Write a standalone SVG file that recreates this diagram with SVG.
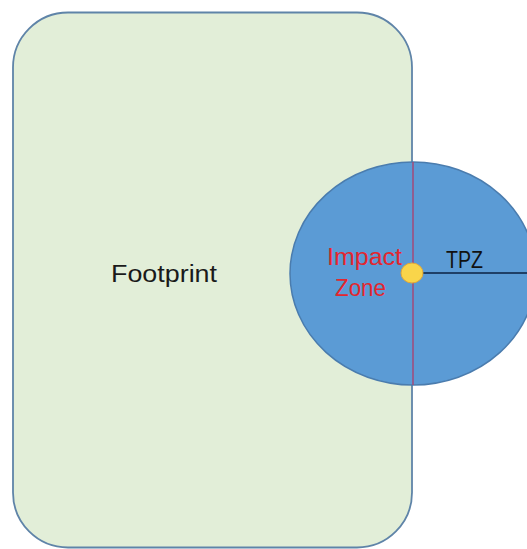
<svg xmlns="http://www.w3.org/2000/svg" width="527" height="549" viewBox="0 0 527 549">
<style>
.lbl{font-family:"Liberation Sans",Arial,sans-serif;font-size:23px}
</style>
<rect width="527" height="549" fill="#ffffff"/>
<g id="footprint">
<rect x="13" y="12.5" width="399" height="535" rx="55" ry="55" fill="#e2eed8" stroke="#5f84a8" stroke-width="1.8"/>
<text class="lbl" x="111" y="282" fill="#1a1a1a" textLength="106" lengthAdjust="spacingAndGlyphs">Footprint</text>
</g>
<g id="tpz">
<ellipse cx="413" cy="273.5" rx="123" ry="111.5" fill="#5b9bd5" stroke="#4a7cae" stroke-width="1.5"/>
<text class="lbl" x="446" y="268" fill="#111111" textLength="37" lengthAdjust="spacingAndGlyphs">TPZ</text>
</g>
<g id="connectors">
<line x1="413" y1="162" x2="413" y2="385" stroke="#a24a78" stroke-width="1.5"/>
<line x1="413" y1="273" x2="527" y2="273" stroke="#1f3f66" stroke-width="2"/>
</g>
<g id="impact">
<ellipse cx="412" cy="273" rx="11" ry="10" fill="#f9d54a" stroke="#e0a83a" stroke-width="1"/>
<text class="lbl" x="327" y="265" fill="#e3262e" textLength="75" lengthAdjust="spacingAndGlyphs">Impact</text>
<text class="lbl" x="335" y="296" fill="#e3262e" textLength="51" lengthAdjust="spacingAndGlyphs">Zone</text>
</g>
</svg>
